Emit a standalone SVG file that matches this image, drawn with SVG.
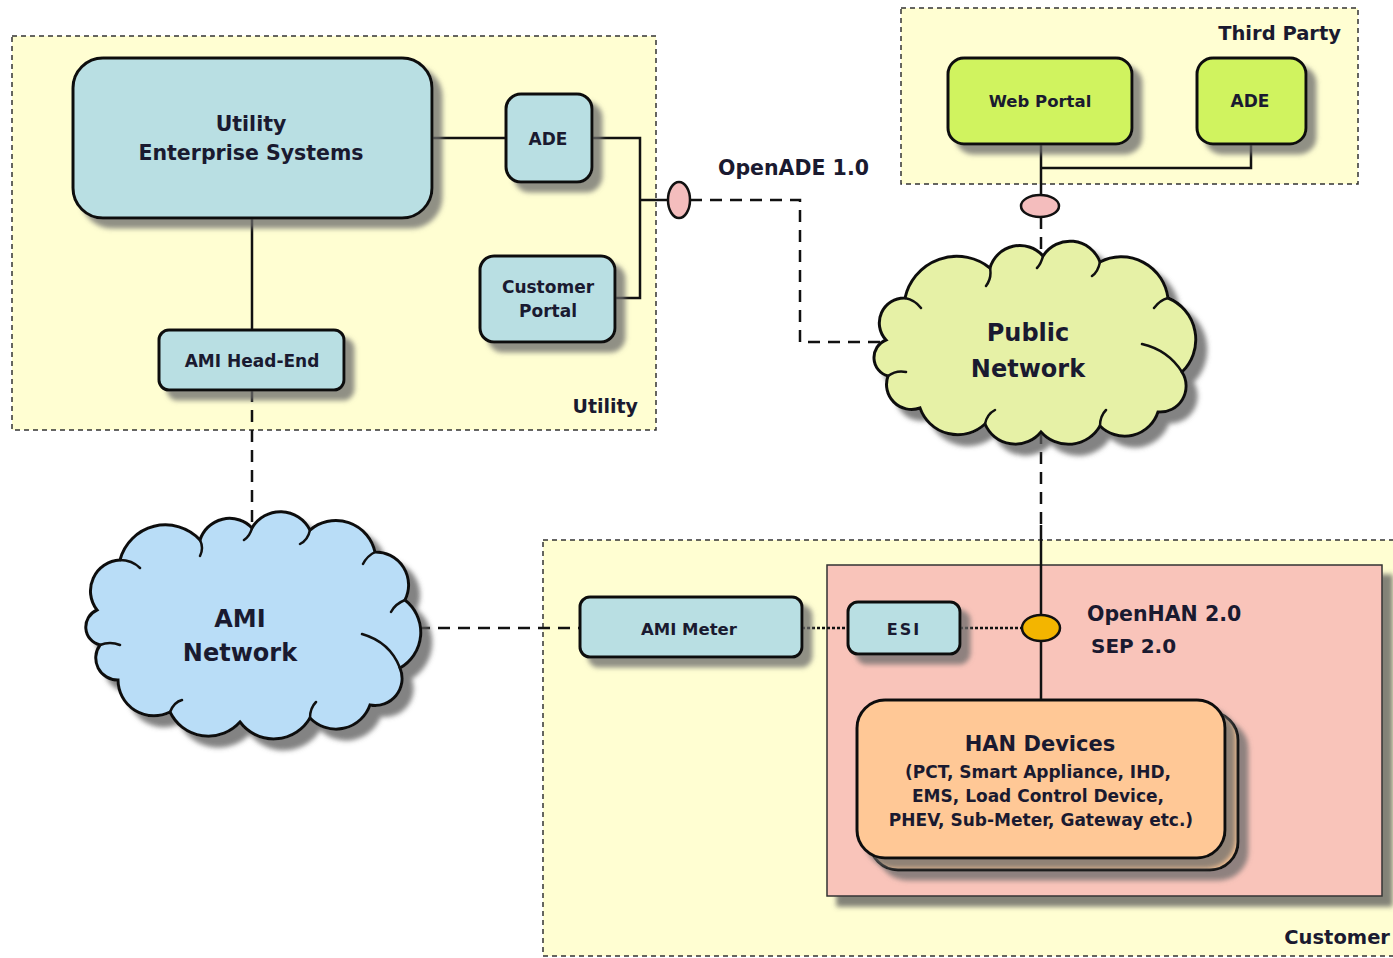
<svg xmlns="http://www.w3.org/2000/svg" width="1393" height="958" viewBox="0 0 1393 958">
<defs>
<filter id="sh" x="-20%" y="-20%" width="150%" height="150%">
<feDropShadow dx="9" dy="9" stdDeviation="2.5" flood-color="#6a6a6a" flood-opacity="0.75"/>
</filter>
<filter id="shc" x="-20%" y="-20%" width="150%" height="150%">
<feDropShadow dx="10" dy="10" stdDeviation="2.5" flood-color="#5a5a5a" flood-opacity="0.75"/>
</filter>
<style>
.region{fill:#FFFED2;stroke:#333;stroke-width:1.5;stroke-dasharray:5 4}
.box{stroke:#111;stroke-width:3;filter:url(#sh)}
.blue{fill:#B9DFE3}
.green{fill:#D0F35E}
.orange{fill:#FFC896}
.cloud{stroke:#111;stroke-width:3;filter:url(#shc)}
.curl{fill:none;stroke:#111;stroke-width:2.5;stroke-linecap:round}
.solid{fill:none;stroke:#111;stroke-width:2.5}
.dash{fill:none;stroke:#111;stroke-width:2.5;stroke-dasharray:12 8}
.dot{fill:none;stroke:#111;stroke-width:2.5;stroke-dasharray:3 2}
text{font-family:"DejaVu Sans","Liberation Sans",sans-serif;font-weight:bold;fill:#1a1a30}
.c{text-anchor:middle}
.e{text-anchor:end}
</style>
</defs>
<rect width="1393" height="958" fill="#ffffff"/>

<g id="region-utility">
<rect class="region" x="12" y="36" width="644" height="394"/>
<text class="e" x="638" y="413" font-size="19">Utility</text>
</g>
<g id="region-thirdparty">
<rect class="region" x="901" y="8" width="457" height="176"/>
<text class="e" x="1341" y="40" font-size="19.5">Third Party</text>
</g>
<g id="region-customer">
<rect class="region" x="543" y="540" width="870" height="416"/>
<text class="e" x="1390" y="944" font-size="19.5">Customer</text>
</g>
<g id="han-area">
<rect x="827" y="565" width="555" height="331" fill="#F9C4BA" stroke="#333" stroke-width="1.5" filter="url(#shc)"/>
</g>

<g id="connectors">
<path class="solid" d="M432,138 H506"/>
<path class="solid" d="M592,138 H640 V298 H615"/>
<path class="solid" d="M640,200 H668"/>
<path class="solid" d="M252,218 V330"/>
<path class="solid" d="M1041,144 V195"/>
<path class="solid" d="M1251,144 V168 H1041"/>
<path class="solid" d="M1041,525 V700"/>
<path class="dash" d="M690,200 H800 V342 H886"/>
<path class="dash" d="M1041,217 V256"/>
<path class="dash" d="M1041,432 V525"/>
<path class="dash" d="M252,390 V528"/>
<path class="dash" d="M418,628 H580"/>
<path class="dot" d="M802,628 H848"/>
<path class="dot" d="M960,628 H1022"/>
<ellipse cx="679" cy="200" rx="11" ry="18" fill="#F4BDBD" stroke="#111" stroke-width="2.5"/>
<ellipse cx="1040" cy="206" rx="19" ry="11" fill="#F4BDBD" stroke="#111" stroke-width="2.5"/>
<ellipse cx="1041" cy="628" rx="19" ry="13" fill="#F3B500" stroke="#111" stroke-width="2.5"/>
<text x="718" y="175" font-size="20.5">OpenADE 1.0</text>
<text x="1087" y="621" font-size="20.5">OpenHAN 2.0</text>
<text x="1091" y="653" font-size="20">SEP 2.0</text>
</g>

<g id="node-ues">
<rect class="box blue" x="73" y="58" width="359" height="160" rx="30"/>
<text class="c" x="251" y="131" font-size="20.5">Utility</text>
<text class="c" x="251" y="160" font-size="20.5">Enterprise Systems</text>
</g>
<g id="node-ade-utility">
<rect class="box blue" x="506" y="94" width="86" height="88" rx="15"/>
<text class="c" x="548" y="145" font-size="17">ADE</text>
</g>
<g id="node-customer-portal">
<rect class="box blue" x="480" y="256" width="135" height="86" rx="14"/>
<text class="c" x="548" y="293" font-size="17">Customer</text>
<text class="c" x="548" y="317" font-size="17">Portal</text>
</g>
<g id="node-ami-headend">
<rect class="box blue" x="159" y="330" width="185" height="60" rx="10"/>
<text class="c" x="252" y="367" font-size="17">AMI Head-End</text>
</g>
<g id="node-web-portal">
<rect class="box green" x="948" y="58" width="184" height="86" rx="16"/>
<text class="c" x="1040" y="107" font-size="16.5">Web Portal</text>
</g>
<g id="node-ade-thirdparty">
<rect class="box green" x="1197" y="58" width="109" height="86" rx="16"/>
<text class="c" x="1250" y="107" font-size="17">ADE</text>
</g>
<g id="node-public-network">
<path class="cloud" fill="#E6F1A6" d="M886,340 A25 25 0 0 1 905,298 A53 53 0 0 1 990,268 A31 31 0 0 1 1043,256 A32 32 0 0 1 1100,262 A47 47 0 0 1 1168,298 A45 45 0 0 1 1182,372 A26 26 0 0 1 1158,412 A35 35 0 0 1 1100,426 A36.5 36.5 0 0 1 1041,432 A33 33 0 0 1 985,424 A40 40 0 0 1 920,408 A25 25 0 0 1 888,376 A19 19 0 0 1 886,340 Z"/>
<path class="curl" d="M905,298 q10,2 16,10 M990,268 q2,10 -4,18 M1043,256 q-2,8 -6,12 M1100,262 q-2,10 -8,14 M1168,298 q-8,2 -14,10 M1182,372 q-14,-22 -40,-28 M1100,426 q0,-10 6,-16 M985,424 q2,-10 10,-14 M888,376 q8,-6 18,-4"/>
<text class="c" x="1028" y="341" font-size="24">Public</text>
<text class="c" x="1028" y="377" font-size="24">Network</text>
</g>
<g id="node-ami-network">
<path class="cloud" fill="#B9DDF7" d="M97,610 A31 31 0 0 1 120,560 A47 47 0 0 1 200,540 A31 31 0 0 1 252,528 A33 33 0 0 1 310,530 A40 40 0 0 1 375,552 A33 33 0 0 1 405,600 A41 41 0 0 1 400,668 A27 27 0 0 1 370,705 A36 36 0 0 1 310,718 A42 42 0 0 1 240,722 A42.5 42.5 0 0 1 170,712 A36 36 0 0 1 118,680 A22 22 0 0 1 100,645 A18.5 18.5 0 0 1 97,610 Z"/>
<path class="curl" d="M120,560 q12,0 20,8 M200,540 q4,8 0,16 M252,528 q-2,8 -8,12 M310,530 q-2,10 -10,14 M375,552 q-8,4 -12,12 M405,600 q-10,4 -14,12 M400,668 q-10,-26 -38,-34 M310,718 q0,-10 6,-16 M170,712 q4,-10 12,-12 M100,645 q10,-4 20,0"/>
<text class="c" x="240" y="627" font-size="24">AMI</text>
<text class="c" x="240" y="661" font-size="24">Network</text>
</g>
<g id="node-ami-meter">
<rect class="box blue" x="580" y="597" width="222" height="60" rx="10"/>
<text class="c" x="689" y="635" font-size="16.5">AMI Meter</text>
</g>
<g id="node-esi">
<rect class="box blue" x="848" y="602" width="112" height="52" rx="10"/>
<text class="c" x="904" y="635" font-size="16" letter-spacing="2">ESI</text>
</g>
<g id="node-han-devices">
<rect class="box orange" x="870" y="712" width="368" height="158" rx="28"/>
<rect class="box orange" x="857" y="700" width="368" height="158" rx="28"/>
<text class="c" x="1040" y="751" font-size="21">HAN Devices</text>
<text class="c" x="1038" y="778" font-size="17">(PCT, Smart Appliance, IHD,</text>
<text class="c" x="1038" y="802" font-size="17">EMS, Load Control Device,</text>
<text class="c" x="1041" y="826" font-size="17">PHEV, Sub-Meter, Gateway etc.)</text>
</g>
</svg>
